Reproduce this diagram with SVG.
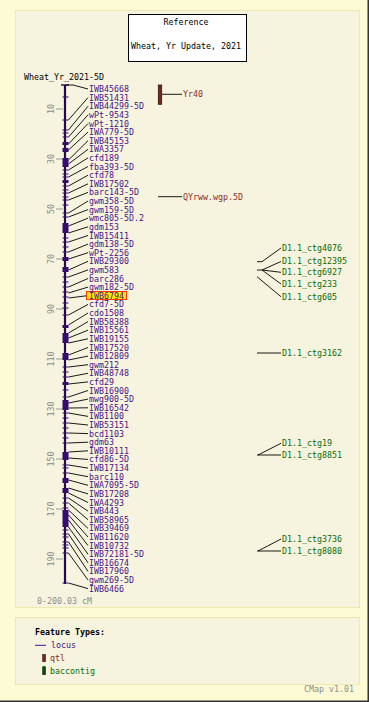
<svg xmlns="http://www.w3.org/2000/svg" width="369" height="702" viewBox="0 0 369 702">
<style>
text{font-family:"DejaVu Sans Mono","Liberation Mono",monospace;font-size:8.3px;dominant-baseline:central}
.lbl{fill:#4b1286}
.qtl{fill:#8b2e1e}
.ctg{fill:#0b6b0b}
.grey{fill:#8c8c8c}
.blk{fill:#000}
.con line,.con polyline{stroke:#000;stroke-width:0.9;fill:none}
.tk{stroke:#360a72;stroke-width:1}
.bk{fill:#360a72}
.sc{stroke:#999;stroke-width:1}
</style>
<rect x="0" y="0" width="369" height="702" fill="#fdfbd6"/>
<rect x="367.5" y="0" width="1.5" height="702" fill="#333"/>
<rect x="0" y="700.5" width="369" height="1.5" fill="#333"/>
<rect x="15.5" y="10.5" width="344" height="597" fill="#f6f4de" stroke="#efe9b0" stroke-width="1"/>
<rect x="15.5" y="617.5" width="344" height="67" fill="#f6f4de" stroke="#efe9b0" stroke-width="1"/>

<g id="title">
<rect x="128.5" y="14.5" width="118" height="47" fill="#fff" stroke="#000" stroke-width="1"/>
<text x="186" y="22.3" text-anchor="middle" class="blk">Reference</text>
<text x="186" y="45.7" text-anchor="middle" class="blk">Wheat, Yr Update, 2021</text>
</g>

<g id="map-title"><text x="24" y="76.7" class="blk">Wheat_Yr_2021-5D</text></g>

<g id="scale">
<g class="sc">
<line x1="56" y1="109" x2="63" y2="109"/><line x1="56" y1="159" x2="63" y2="159"/><line x1="56" y1="209" x2="63" y2="209"/><line x1="56" y1="259" x2="63" y2="259"/><line x1="56" y1="309" x2="63" y2="309"/><line x1="56" y1="359" x2="63" y2="359"/><line x1="56" y1="409" x2="63" y2="409"/><line x1="56" y1="459" x2="63" y2="459"/><line x1="56" y1="509" x2="63" y2="509"/><line x1="56" y1="559" x2="63" y2="559"/>
</g>
<g class="grey" text-anchor="middle">
<text transform="translate(51,109) rotate(-90)">10</text>
<text transform="translate(51,159) rotate(-90)">30</text>
<text transform="translate(51,209) rotate(-90)">50</text>
<text transform="translate(51,259) rotate(-90)">70</text>
<text transform="translate(51,309) rotate(-90)">90</text>
<text transform="translate(51,359) rotate(-90)">110</text>
<text transform="translate(51,409) rotate(-90)">130</text>
<text transform="translate(51,459) rotate(-90)">150</text>
<text transform="translate(51,509) rotate(-90)">170</text>
<text transform="translate(51,559) rotate(-90)">190</text>
</g>
<text x="37" y="601" class="grey">0-200.03 cM</text>
</g>

<g id="chromosome">
<line x1="65" y1="85" x2="65" y2="584" stroke="#240850" stroke-width="2.2"/>
<line x1="61" y1="85" x2="69" y2="85" stroke="#240850" stroke-width="1.4"/>
<g class="tk">
<line x1="62.5" y1="97" x2="68.5" y2="97"/><line x1="62.5" y1="120" x2="68.5" y2="120"/><line x1="62.5" y1="130" x2="68.5" y2="130"/><line x1="62.5" y1="133" x2="68.5" y2="133"/><line x1="62.5" y1="137" x2="68.5" y2="137"/><line x1="62.5" y1="170" x2="68.5" y2="170"/><line x1="62.5" y1="174" x2="68.5" y2="174"/><line x1="62.5" y1="177" x2="68.5" y2="177"/><line x1="62.5" y1="186" x2="68.5" y2="186"/><line x1="62.5" y1="190" x2="68.5" y2="190"/><line x1="62.5" y1="193" x2="68.5" y2="193"/><line x1="62.5" y1="197" x2="68.5" y2="197"/><line x1="62.5" y1="200" x2="68.5" y2="200"/><line x1="62.5" y1="205" x2="68.5" y2="205"/><line x1="62.5" y1="213" x2="68.5" y2="213"/><line x1="62.5" y1="217" x2="68.5" y2="217"/><line x1="62.5" y1="238" x2="68.5" y2="238"/><line x1="62.5" y1="242" x2="68.5" y2="242"/><line x1="62.5" y1="247" x2="68.5" y2="247"/><line x1="62.5" y1="252" x2="68.5" y2="252"/><line x1="62.5" y1="277" x2="68.5" y2="277"/><line x1="62.5" y1="282" x2="68.5" y2="282"/><line x1="62.5" y1="287" x2="68.5" y2="287"/><line x1="62.5" y1="292" x2="68.5" y2="292"/><line x1="62.5" y1="297" x2="68.5" y2="297"/><line x1="62.5" y1="303" x2="68.5" y2="303"/><line x1="62.5" y1="308" x2="68.5" y2="308"/><line x1="62.5" y1="315" x2="68.5" y2="315"/><line x1="62.5" y1="367" x2="68.5" y2="367"/><line x1="62.5" y1="372" x2="68.5" y2="372"/><line x1="62.5" y1="377" x2="68.5" y2="377"/><line x1="62.5" y1="390" x2="68.5" y2="390"/><line x1="62.5" y1="397" x2="68.5" y2="397"/><line x1="62.5" y1="413" x2="68.5" y2="413"/><line x1="62.5" y1="418" x2="68.5" y2="418"/><line x1="62.5" y1="423" x2="68.5" y2="423"/><line x1="62.5" y1="428" x2="68.5" y2="428"/><line x1="62.5" y1="433" x2="68.5" y2="433"/><line x1="62.5" y1="438" x2="68.5" y2="438"/><line x1="62.5" y1="443" x2="68.5" y2="443"/><line x1="62.5" y1="465" x2="68.5" y2="465"/><line x1="62.5" y1="468" x2="68.5" y2="468"/><line x1="62.5" y1="473" x2="68.5" y2="473"/><line x1="62.5" y1="498" x2="68.5" y2="498"/><line x1="62.5" y1="503" x2="68.5" y2="503"/><line x1="62.5" y1="508" x2="68.5" y2="508"/><line x1="62.5" y1="530" x2="68.5" y2="530"/><line x1="62.5" y1="534" x2="68.5" y2="534"/><line x1="62.5" y1="537" x2="68.5" y2="537"/><line x1="62.5" y1="542" x2="68.5" y2="542"/><line x1="62.5" y1="545" x2="68.5" y2="545"/><line x1="62.5" y1="548" x2="68.5" y2="548"/><line x1="62.5" y1="553" x2="68.5" y2="553"/><line x1="62.5" y1="583" x2="68.5" y2="583"/>
</g>
<g class="bk">
<rect x="62.5" y="142" width="6" height="3"/><rect x="62.5" y="148" width="6" height="4"/><rect x="62.5" y="158" width="6" height="9"/><rect x="62.5" y="180" width="6" height="3"/><rect x="62.5" y="223" width="6" height="10"/><rect x="62.5" y="257" width="6" height="4"/><rect x="62.5" y="267" width="6" height="5"/><rect x="62.5" y="325" width="6" height="3"/><rect x="62.5" y="333" width="6" height="10"/><rect x="62.5" y="353" width="6" height="7"/><rect x="62.5" y="382" width="6" height="3"/><rect x="62.5" y="400" width="6" height="10"/><rect x="62.5" y="452" width="6" height="8"/><rect x="62.5" y="478" width="6" height="5"/><rect x="62.5" y="488" width="6" height="5"/><rect x="62.5" y="510" width="6" height="17"/>
</g>
</g>

<g id="connectors" class="con">
<polyline points="66,85 73,85 88,89"/>
<line x1="68.5" y1="120" x2="88" y2="97.6"/>
<line x1="68.5" y1="130" x2="88" y2="106.2"/>
<line x1="68.5" y1="137" x2="88" y2="114.8"/>
<line x1="68.5" y1="144" x2="88" y2="123.5"/>
<line x1="68.5" y1="150" x2="88" y2="132.1"/>
<line x1="68.5" y1="160" x2="88" y2="140.7"/>
<line x1="68.5" y1="164" x2="88" y2="149.3"/>
<line x1="68.5" y1="170" x2="88" y2="157.9"/>
<line x1="68.5" y1="177" x2="88" y2="166.5"/>
<line x1="68.5" y1="186" x2="88" y2="175.2"/>
<line x1="68.5" y1="193" x2="88" y2="183.8"/>
<line x1="68.5" y1="200" x2="88" y2="192.4"/>
<line x1="68.5" y1="213" x2="88" y2="201"/>
<line x1="68.5" y1="217" x2="88" y2="209.6"/>
<line x1="68.5" y1="226" x2="88" y2="218.2"/>
<line x1="68.5" y1="233" x2="88" y2="226.8"/>
<line x1="68.5" y1="242" x2="88" y2="235.5"/>
<line x1="68.5" y1="252" x2="88" y2="244.1"/>
<line x1="68.5" y1="259" x2="88" y2="252.7"/>
<line x1="68.5" y1="270" x2="88" y2="261.3"/>
<line x1="68.5" y1="277" x2="88" y2="269.9"/>
<line x1="68.5" y1="287" x2="88" y2="278.5"/>
<line x1="68.5" y1="293" x2="88" y2="287.1"/>
<line x1="68.5" y1="298" x2="86.5" y2="295.8"/>
<line x1="68.5" y1="315" x2="88" y2="304.4"/>
<line x1="68.5" y1="325" x2="88" y2="313"/>
<line x1="68.5" y1="333" x2="88" y2="321.6"/>
<line x1="68.5" y1="338" x2="88" y2="330.2"/>
<line x1="68.5" y1="343" x2="88" y2="338.8"/>
<line x1="68.5" y1="355" x2="88" y2="347.5"/>
<line x1="68.5" y1="360" x2="88" y2="356.1"/>
<line x1="68.5" y1="367" x2="88" y2="364.7"/>
<line x1="68.5" y1="377" x2="88" y2="373.3"/>
<line x1="68.5" y1="384" x2="88" y2="381.9"/>
<line x1="68.5" y1="397" x2="88" y2="390.5"/>
<line x1="68.5" y1="403" x2="88" y2="399.1"/>
<line x1="68.5" y1="408" x2="88" y2="407.8"/>
<line x1="68.5" y1="413" x2="88" y2="416.4"/>
<line x1="68.5" y1="423" x2="88" y2="425"/>
<line x1="68.5" y1="433" x2="88" y2="433.6"/>
<line x1="68.5" y1="443" x2="88" y2="442.2"/>
<line x1="68.5" y1="452" x2="88" y2="450.8"/>
<line x1="68.5" y1="458" x2="88" y2="459.4"/>
<line x1="68.5" y1="465" x2="88" y2="468.1"/>
<line x1="68.5" y1="473" x2="88" y2="476.7"/>
<line x1="68.5" y1="480" x2="88" y2="485.3"/>
<line x1="68.5" y1="488" x2="88" y2="493.9"/>
<line x1="68.5" y1="493" x2="88" y2="502.5"/>
<line x1="68.5" y1="498" x2="88" y2="511.1"/>
<line x1="68.5" y1="503" x2="88" y2="519.7"/>
<line x1="68.5" y1="510" x2="88" y2="528.4"/>
<line x1="68.5" y1="515" x2="88" y2="537"/>
<line x1="68.5" y1="520" x2="88" y2="545.6"/>
<line x1="68.5" y1="527" x2="88" y2="554.2"/>
<line x1="68.5" y1="534" x2="88" y2="562.8"/>
<line x1="68.5" y1="542" x2="88" y2="571.4"/>
<line x1="68.5" y1="553" x2="88" y2="580"/>
<line x1="68.5" y1="583" x2="88" y2="588.6"/>
<line x1="162" y1="94.3" x2="182" y2="94.3"/>
<line x1="158" y1="196.7" x2="182" y2="196.7"/>
<polyline points="257,261.7 262,261.7 281,248"/>
<polyline points="257,270 262,270 281,261.5"/>
<line x1="262" y1="270" x2="281" y2="272.3"/>
<line x1="262" y1="270" x2="281" y2="284"/>
<line x1="257" y1="276.7" x2="281" y2="296.7"/>
<line x1="257" y1="353" x2="281" y2="353"/>
<line x1="257" y1="455" x2="281" y2="455"/>
<line x1="258" y1="455" x2="281" y2="443.3"/>
<line x1="257" y1="551" x2="281" y2="551"/>
<line x1="258" y1="551" x2="281" y2="539"/>
</g>

<g id="highlight"><rect x="86.5" y="291.5" width="40" height="8" fill="#ffe800" stroke="#ff3a00" stroke-width="1"/></g>

<g id="loci" class="lbl">
<text x="89" y="89">IWB45668</text>
<text x="89" y="97.6">IWB51431</text>
<text x="89" y="106.2">IWB44299-5D</text>
<text x="89" y="114.8">wPt-9543</text>
<text x="89" y="123.5">wPt-1210</text>
<text x="89" y="132.1">IWA779-5D</text>
<text x="89" y="140.7">IWB45153</text>
<text x="89" y="149.3">IWA3357</text>
<text x="89" y="157.9">cfd189</text>
<text x="89" y="166.5">fba393-5D</text>
<text x="89" y="175.2">cfd78</text>
<text x="89" y="183.8">IWB17502</text>
<text x="89" y="192.4">barc143-5D</text>
<text x="89" y="201">gwm358-5D</text>
<text x="89" y="209.6">gwm159-5D</text>
<text x="89" y="218.2">wmc805-5D.2</text>
<text x="89" y="226.8">gdm153</text>
<text x="89" y="235.5">IWB15411</text>
<text x="89" y="244.1">gdm138-5D</text>
<text x="89" y="252.7">wPt-2256</text>
<text x="89" y="261.3">IWB29300</text>
<text x="89" y="269.9">gwm583</text>
<text x="89" y="278.5">barc286</text>
<text x="89" y="287.1">gwm182-5D</text>
<text x="89" y="295.8">IWB6794</text>
<text x="89" y="304.4">cfd7-5D</text>
<text x="89" y="313">cdo1508</text>
<text x="89" y="321.6">IWB58388</text>
<text x="89" y="330.2">IWB15561</text>
<text x="89" y="338.8">IWB19155</text>
<text x="89" y="347.5">IWB17520</text>
<text x="89" y="356.1">IWB12809</text>
<text x="89" y="364.7">gwm212</text>
<text x="89" y="373.3">IWB48748</text>
<text x="89" y="381.9">cfd29</text>
<text x="89" y="390.5">IWB16900</text>
<text x="89" y="399.1">mwg900-5D</text>
<text x="89" y="407.8">IWB16542</text>
<text x="89" y="416.4">IWB1100</text>
<text x="89" y="425">IWB53151</text>
<text x="89" y="433.6">bcd1103</text>
<text x="89" y="442.2">gdm63</text>
<text x="89" y="450.8">IWB10111</text>
<text x="89" y="459.4">cfd86-5D</text>
<text x="89" y="468.1">IWB17134</text>
<text x="89" y="476.7">barc110</text>
<text x="89" y="485.3">IWA7095-5D</text>
<text x="89" y="493.9">IWB17208</text>
<text x="89" y="502.5">IWA4293</text>
<text x="89" y="511.1">IWB443</text>
<text x="89" y="519.7">IWB58965</text>
<text x="89" y="528.4">IWB39469</text>
<text x="89" y="537">IWB11620</text>
<text x="89" y="545.6">IWB10732</text>
<text x="89" y="554.2">IWB72181-5D</text>
<text x="89" y="562.8">IWB16674</text>
<text x="89" y="571.4">IWB17960</text>
<text x="89" y="580">gwm269-5D</text>
<text x="89" y="588.6">IWB6466</text>
</g>

<g id="qtl-Yr40">
<rect x="158.3" y="85" width="3.4" height="19.3" fill="#6b2a1f" stroke="#3d140e" stroke-width="0.8"/>
<text x="183" y="94.3" class="qtl">Yr40</text>
</g>
<g id="qtl-QYrww"><text x="183" y="196.7" class="qtl">QYrww.wgp.5D</text></g>

<g id="contigs" class="ctg">
<text x="282" y="247.7">D1.1_ctg4076</text>
<text x="282" y="261">D1.1_ctg12395</text>
<text x="282" y="272.3">D1.1_ctg6927</text>
<text x="282" y="284">D1.1_ctg233</text>
<text x="282" y="296.7">D1.1_ctg605</text>
<text x="282" y="353">D1.1_ctg3162</text>
<text x="282" y="443.3">D1.1_ctg19</text>
<text x="282" y="455">D1.1_ctg8851</text>
<text x="282" y="539">D1.1_ctg3736</text>
<text x="282" y="550.7">D1.1_ctg8080</text>
</g>

<g id="legend">
<text x="35" y="631.7" class="blk" font-weight="bold">Feature Types:</text>
<line x1="35" y1="645.3" x2="46" y2="645.3" stroke="#4b1286" stroke-width="1"/>
<text x="51" y="645.3" class="lbl">locus</text>
<rect x="42.7" y="654.3" width="2.8" height="7.4" fill="#6b2a1f" stroke="#3d140e" stroke-width="0.6"/>
<text x="50" y="658" class="qtl">qtl</text>
<rect x="42.7" y="666.7" width="2.8" height="8" fill="#0b4a0b" stroke="#052905" stroke-width="0.6"/>
<text x="50" y="670.7" class="ctg">baccontig</text>
</g>
<text x="304" y="688.7" class="grey">CMap v1.01</text>
</svg>
